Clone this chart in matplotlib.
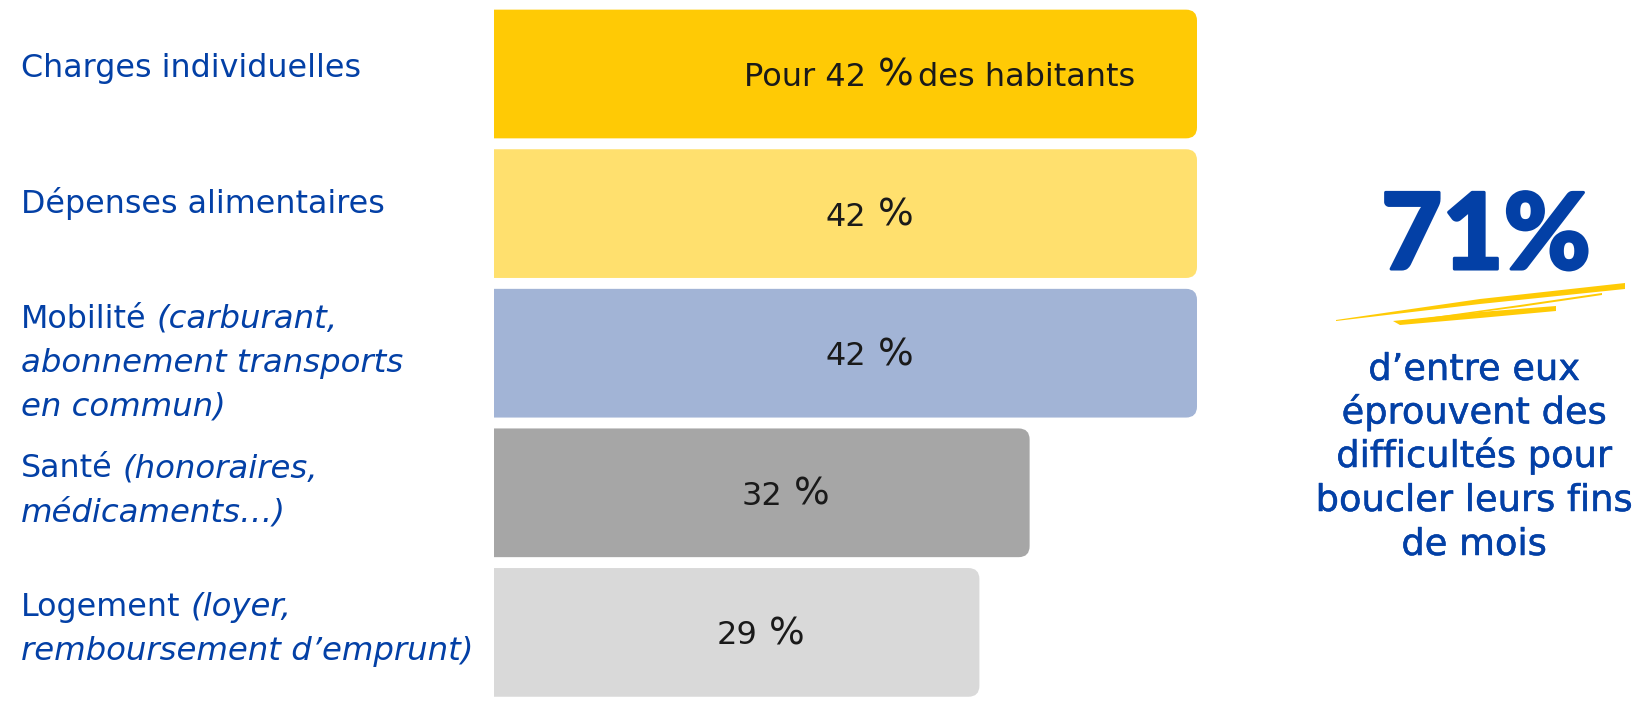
import matplotlib
matplotlib.use("Agg")
import matplotlib.pyplot as plt
from matplotlib.patches import FancyBboxPatch, Polygon
import matplotlib.patheffects as pe

# ---------------- data ----------------
categories = ["Charges individuelles", "Dépenses alimentaires", "Mobilité", "Santé", "Logement"]
category_details = [
    [[("Charges individuelles", "normal")]],
    [[("Dépenses alimentaires", "normal")]],
    [[("Mobilité", "normal"), ("(carburant,", "italic")],
     [("abonnement transports", "italic")],
     [("en commun)", "italic")]],
    [[("Santé", "normal"), ("(honoraires,", "italic")],
     [("médicaments…)", "italic")]],
    [[("Logement", "normal"), ("(loyer,", "italic")],
     [("remboursement d’emprunt)", "italic")]],
]
values = [42, 42, 42, 32, 29]
value_label_prefix = ["Pour 42", "42", "42", "32", "29"]
value_label_suffix = ["des habitants", "", "", "", ""]
bar_colors = ["#FFCA05", "#FFE06E", "#A2B4D6", "#A6A6A6", "#D9D9D9"]
headline = "71%"
headline_lines = ["d’entre eux", "éprouvent des", "difficultés pour", "boucler leurs fins", "de mois"]

# ---------------- layout ----------------
W, H = 1651, 703
BLUE = "#0340A6"
fig = plt.figure(figsize=(W / 100, H / 100), dpi=100)
fig.patch.set_facecolor("white")

bar_left_px = 494
px_per_unit = 703 / 42.0
xmax = 50
ax_top_px, ax_bot_px = 4.2, 702.2
ax = fig.add_axes([bar_left_px / W, (H - ax_bot_px) / H,
                   xmax * px_per_unit / W, (ax_bot_px - ax_top_px) / H])
ax.set_xlim(0, xmax)
n = len(values)
ax.set_ylim(n - 0.5, -0.5)
ax.axis("off")

px_per_row = (ax_bot_px - ax_top_px) / n
bar_h = 0.922
r_px = 11
r_x = r_px / px_per_unit
aspect = px_per_unit / px_per_row

for i, (v, c) in enumerate(zip(values, bar_colors)):
    p = FancyBboxPatch((-2, i - bar_h / 2), v + 2, bar_h,
                       boxstyle=f"round,pad=0,rounding_size={r_x}",
                       mutation_aspect=aspect, fc=c, ec="none")
    ax.add_patch(p)

# value labels: number part right-aligned, then a larger "%" sign, then suffix
pt = 72 / 100.0
VCOL = "#1a1a1a"
for i, (v, pre, suf) in enumerate(zip(values, value_label_prefix, value_label_suffix)):
    base = i + 12 / px_per_row
    t1 = ax.annotate(pre, xy=(v / 2, base), xytext=(21 * pt, 0), textcoords="offset points",
                     ha="right", va="baseline", fontsize=23, color=VCOL)
    t2 = ax.annotate("%", xy=(1, base), xycoords=(t1, "data"), xytext=(8, 0),
                     textcoords="offset points", ha="left", va="baseline",
                     fontsize=27, color=VCOL)
    if suf:
        ax.annotate(suf, xy=(1, base), xycoords=(t2, "data"), xytext=(3, 0),
                    textcoords="offset points", ha="left", va="baseline",
                    fontsize=23, color=VCOL)

# category labels (left)
label_baselines = [[77], [213], [328, 372, 416], [477, 521], [616, 660]]
LSIZE = 22.9
for lines, bases in zip(category_details, label_baselines):
    for segs, b in zip(lines, bases):
        prev = None
        for txt, style in segs:
            size = LSIZE if style == "normal" else 23.3
            if prev is None:
                prev = fig.text(21 / W, (H - b) / H, txt, ha="left", va="baseline",
                                fontsize=size, fontstyle=style, color=BLUE)
            else:
                prev = ax.annotate(txt, xy=(1, H - b), xycoords=(prev, "figure pixels"),
                                   xytext=(7, 0), textcoords="offset points",
                                   ha="left", va="baseline", fontsize=size,
                                   fontstyle=style, color=BLUE, annotation_clip=False)

# headline
fig.text(1486 / W, (H - 269) / H, headline, ha="center", va="baseline",
         fontsize=76, fontweight="black", family=["Lato", "DejaVu Sans"], color=BLUE,
         path_effects=[pe.withStroke(linewidth=2.2, foreground=BLUE)])

# brush strokes
YEL = "#FFCB05"
def P(pts):
    return [(x / W, (H - y) / H) for x, y in pts]
strokes = [
    [(1336, 320), (1480, 299), (1625, 283), (1625, 289), (1480, 304), (1336, 321)],
    [(1420, 319), (1520, 305), (1602, 293), (1602, 295), (1520, 307), (1420, 320)],
    [(1393, 321), (1480, 312), (1556, 306), (1556, 311), (1480, 318), (1400, 325)],
]
for s in strokes:
    fig.add_artist(Polygon(P(s), closed=True, fc=YEL, ec="none", transform=fig.transFigure))

# headline sub-text
sub_bases = [380, 423.5, 467, 511, 555]
for txt, b in zip(headline_lines, sub_bases):
    fig.text(1474 / W, (H - b) / H, txt, ha="center", va="baseline",
             fontsize=26.5, color=BLUE,
             path_effects=[pe.withStroke(linewidth=0.35, foreground=BLUE)])

fig.savefig("out.png", dpi=100, facecolor="white")
